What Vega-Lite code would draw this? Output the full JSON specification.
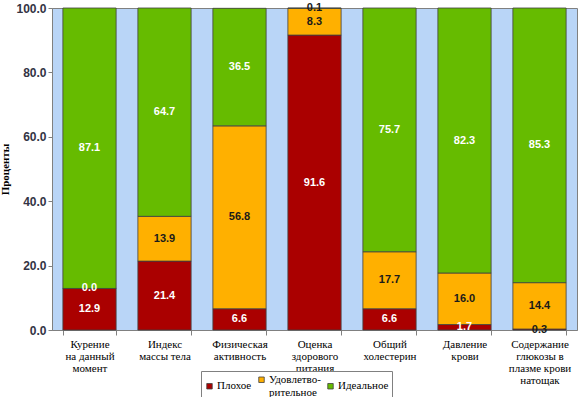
{
  "$schema": "https://vega.github.io/schema/vega-lite/v6.json",
  "width": 525,
  "height": 322,
  "autosize": "none",
  "padding": {"left": 52, "top": 8, "right": 3, "bottom": 67},
  "background": "white",
  "config": {
    "view": {"fill": "#b9d5f7", "stroke": "#808080", "strokeWidth": 1},
    "font": "Liberation Sans"
  },
  "data": {
    "values": [
      {"cat": "Курение|на данный|момент", "level": "Плохое", "ord": 1, "val": 12.9},
      {"cat": "Курение|на данный|момент", "level": "Удовлетворительное", "ord": 2, "val": 0.0},
      {"cat": "Курение|на данный|момент", "level": "Идеальное", "ord": 3, "val": 87.1},
      {"cat": "Индекс|массы тела", "level": "Плохое", "ord": 1, "val": 21.4},
      {"cat": "Индекс|массы тела", "level": "Удовлетворительное", "ord": 2, "val": 13.9},
      {"cat": "Индекс|массы тела", "level": "Идеальное", "ord": 3, "val": 64.7},
      {"cat": "Физическая|активность", "level": "Плохое", "ord": 1, "val": 6.6},
      {"cat": "Физическая|активность", "level": "Удовлетворительное", "ord": 2, "val": 56.8},
      {"cat": "Физическая|активность", "level": "Идеальное", "ord": 3, "val": 36.5},
      {"cat": "Оценка|здорового|питания", "level": "Плохое", "ord": 1, "val": 91.6},
      {"cat": "Оценка|здорового|питания", "level": "Удовлетворительное", "ord": 2, "val": 8.3},
      {"cat": "Оценка|здорового|питания", "level": "Идеальное", "ord": 3, "val": 0.1},
      {"cat": "Общий|холестерин", "level": "Плохое", "ord": 1, "val": 6.6},
      {"cat": "Общий|холестерин", "level": "Удовлетворительное", "ord": 2, "val": 17.7},
      {"cat": "Общий|холестерин", "level": "Идеальное", "ord": 3, "val": 75.7},
      {"cat": "Давление|крови", "level": "Плохое", "ord": 1, "val": 1.7},
      {"cat": "Давление|крови", "level": "Удовлетворительное", "ord": 2, "val": 16.0},
      {"cat": "Давление|крови", "level": "Идеальное", "ord": 3, "val": 82.3},
      {"cat": "Содержание|глюкозы в|плазме крови|натощак", "level": "Плохое", "ord": 1, "val": 0.3},
      {"cat": "Содержание|глюкозы в|плазме крови|натощак", "level": "Удовлетворительное", "ord": 2, "val": 14.4},
      {"cat": "Содержание|глюкозы в|плазме крови|натощак", "level": "Идеальное", "ord": 3, "val": 85.3}
    ]
  },
  "encoding": {
    "x": {
      "field": "cat", "type": "nominal", "sort": null,
      "scale": {"paddingInner": 0.29, "paddingOuter": 0.145},
      "axis": {
        "title": null, "labelAngle": 0, "labelExpr": "split(datum.label, '|')",
        "labelFont": "Liberation Serif", "labelFontSize": 11, "labelColor": "#000",
        "labelLineHeight": 12, "labelPadding": 3,
        "tickBand": "extent", "tickColor": "#808080", "tickSize": 5,
        "domainColor": "#808080"
      }
    },
    "y": {
      "field": "val", "type": "quantitative", "stack": "zero",
      "scale": {"domain": [0, 100], "nice": false},
      "axis": {
        "title": "Проценты", "titleFont": "Liberation Serif", "titleFontSize": 11,
        "titleFontWeight": "bold", "titleColor": "#000", "titlePadding": 5,
        "values": [0, 20, 40, 60, 80, 100], "format": ".1f",
        "labelFont": "Liberation Sans", "labelFontSize": 12, "labelFontWeight": "bold",
        "labelColor": "#333344", "grid": false, "tickColor": "#808080", "tickSize": 4,
        "domainColor": "#808080"
      }
    },
    "order": {"field": "ord", "type": "quantitative"}
  },
  "layer": [
    {
      "mark": {"type": "bar", "stroke": "#404040", "strokeWidth": 0.8},
      "encoding": {
        "color": {
          "field": "level", "type": "nominal",
          "scale": {"domain": ["Плохое", "Удовлетворительное", "Идеальное"], "range": ["#aa0000", "#ffb000", "#66bb00"]},
          "legend": {
            "title": null, "orient": "none", "direction": "horizontal",
            "legendX": 149, "legendY": 363,
            "labelExpr": "datum.label == 'Удовлетворительное' ? ['Удовлетво-', 'рительное'] : datum.label",
            "labelFont": "Liberation Serif", "labelFontSize": 11, "labelColor": "#000",
            "labelLineHeight": 12,
            "symbolType": "square", "symbolSize": 30, "symbolStrokeColor": "#404040", "symbolStrokeWidth": 0.8,
            "columnPadding": 4, "labelOffset": 2,
            "strokeColor": "#808080", "padding": 3, "fillColor": "white"
          }
        }
      }
    },
    {
      "mark": {"type": "text", "fontWeight": "bold", "fontSize": 11, "font": "Liberation Sans", "baseline": "middle"},
      "encoding": {
        "y": {"field": "val", "type": "quantitative", "stack": "zero", "bandPosition": 0.5},
        "text": {"field": "val", "type": "quantitative", "format": ".1f"},
        "color": {
          "condition": {"test": "(datum.level == 'Удовлетворительное' && datum.val > 0) || (datum.val > 0 && datum.val < 1)", "value": "#1a1a1a"},
          "value": "white"
        }
      }
    }
  ]
}
